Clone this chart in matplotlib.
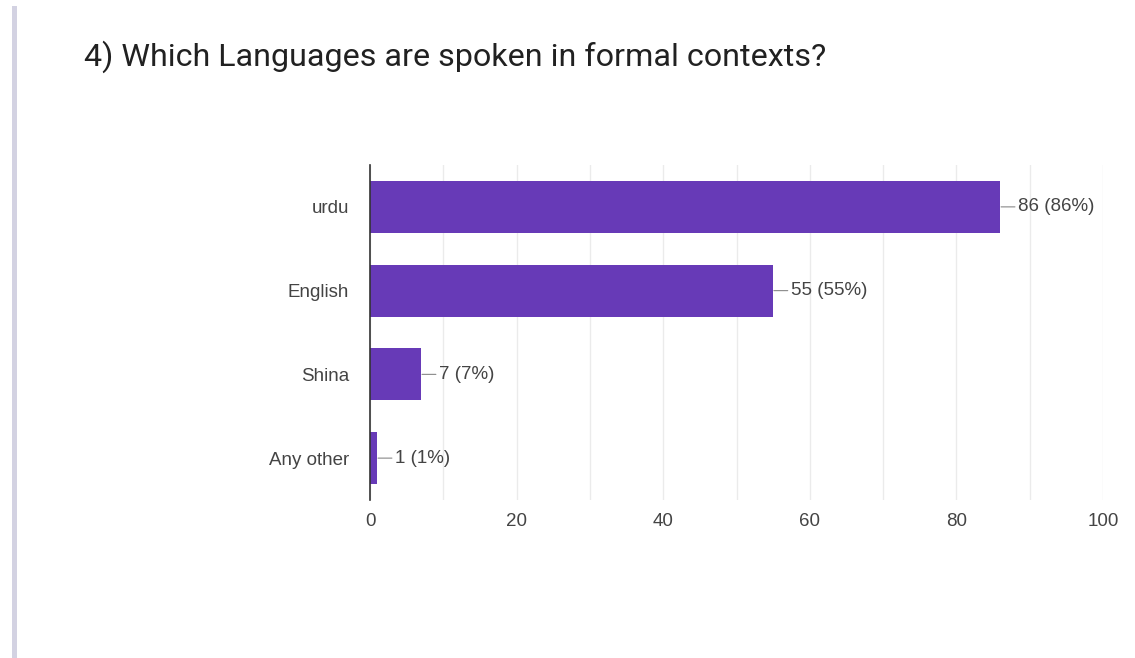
import matplotlib
matplotlib.use("Agg")
import matplotlib.pyplot as plt
from matplotlib.patches import Rectangle

categories = ["urdu", "English", "Shina", "Any other"]
counts = [86, 55, 7, 1]
percents = [86, 55, 7, 1]
x_ticks = [0, 20, 40, 60, 80, 100]
title = "4) Which Languages are spoken in formal contexts?"

W, H = 1135, 658
fig = plt.figure(figsize=(W / 100, H / 100), dpi=100)
fig.patch.set_facecolor("white")

# left page rule
fig.patches.append(Rectangle((12 / W, 0), 5 / W, 1 - 6 / H, transform=fig.transFigure,
                             facecolor="#d3d2e2", edgecolor="none"))

fig.text(84 / W, 1 - 57 / H, title, fontsize=23.2, family="Roboto", color="#212121",
         ha="left", va="center")

ax = fig.add_axes([370 / W, 1 - 500 / H, (1103 - 370) / W, (500 - 165) / H])
ypos = list(range(len(categories)))
ax.barh(ypos, counts, height=0.62, color="#673ab7", zorder=3)
ax.set_ylim(len(categories) - 0.5, -0.5)
ax.set_xlim(0, 100)
ax.set_yticks(ypos)
ax.set_yticklabels(categories)
ax.set_xticks(x_ticks)
ax.set_xticks(range(0, 101, 10), minor=True)
ax.grid(axis="x", which="both", color="#ebebeb", linewidth=1, zorder=0)
ax.tick_params(axis="both", which="both", length=0, labelsize=13.5, labelcolor="#444444")
ax.tick_params(axis="y", pad=15)
ax.tick_params(axis="x", pad=9)
for lab in ax.get_xticklabels() + ax.get_yticklabels():
    lab.set_family("Liberation Sans")
for s in ["top", "right", "bottom"]:
    ax.spines[s].set_visible(False)
ax.spines["left"].set_color("#333333")
ax.spines["left"].set_linewidth(1.2)
ax.spines["left"].set_zorder(4)

for y, c, p in zip(ypos, counts, percents):
    ax.annotate(f"{c} ({p}%)", xy=(c, y), xytext=(12.5, 0), textcoords="offset points",
                ha="left", va="center", fontsize=13.5, family="Liberation Sans",
                color="#444444",
                arrowprops=dict(arrowstyle="-", color="#888888", lw=0.8,
                                shrinkA=0, shrinkB=0.5))

fig.savefig("out.png", dpi=100, facecolor="white")
